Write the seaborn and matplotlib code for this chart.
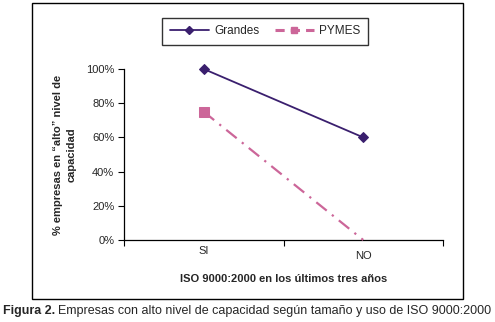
import matplotlib
matplotlib.use("Agg")
import matplotlib.pyplot as plt
import matplotlib.transforms as mtransforms
import seaborn as sns
import pandas as pd
from matplotlib.patches import Rectangle
from matplotlib.lines import Line2D

categories = ["SI", "NO"]
grandes = [1.00, 0.60]
pymes = [0.75, 0.0]
yticks = [0, 0.2, 0.4, 0.6, 0.8, 1.0]
ytick_labels = ["0%", "20%", "40%", "60%", "80%", "100%"]

sns.set_theme(style="white")
plt.rcParams['font.family'] = ['Liberation Sans', 'DejaVu Sans']

df = pd.DataFrame({
    "cat": categories * 2,
    "val": grandes + pymes,
    "serie": ["Grandes"] * 2 + ["PYMES"] * 2,
})

W, H = 495, 322
fig = plt.figure(figsize=(W / 100, H / 100), dpi=100)
ax = fig.add_axes([124 / W, 1 - 240 / H, (443 - 124) / W, (240 - 69) / H])

c_g = "#3a1f6e"
c_p = "#cc6699"

sns.lineplot(data=df[df.serie == "Grandes"], x="cat", y="val", ax=ax,
             color=c_g, lw=1.3, marker="D", markersize=5.5, markeredgecolor=c_g,
             sort=False, legend=False, clip_on=False, zorder=4)
sns.lineplot(data=df[df.serie == "PYMES"], x="cat", y="val", ax=ax,
             color=c_p, lw=1.6, marker="s", markersize=7, markeredgecolor=c_p,
             markevery=[0], sort=False, legend=False, dashes=False, clip_on=False, zorder=3)
ax.lines[1].set_dashes([6, 3, 1, 3])

ax.set_xlim(-0.5, 1.5)
ax.set_ylim(0, 1.0)
ax.set_yticks(yticks)
ax.set_yticklabels(ytick_labels, fontsize=8)
ax.set_xticks([0, 1])
ax.set_xticklabels(categories, fontsize=8)
ax.set_xticks([-0.5, 0.5, 1.5], minor=True)
ax.tick_params(axis="x", which="major", length=0, pad=4)
ax.tick_params(axis="x", which="minor", length=4, direction="out", width=0.8, color="black", bottom=True)
ax.tick_params(axis="y", length=4, direction="out", width=0.8, color="black", left=True, pad=3)
for lbl in ax.get_xticklabels():
    if lbl.get_text() == "NO":
        lbl.set_transform(lbl.get_transform() + mtransforms.ScaledTranslation(0, -5 / 100, fig.dpi_scale_trans))
for s in ["top", "right"]:
    ax.spines[s].set_visible(False)
for s in ["left", "bottom"]:
    ax.spines[s].set_color("black")
    ax.spines[s].set_linewidth(0.9)
ax.set_facecolor("white")

ax.set_xlabel("ISO 9000:2000 en los últimos tres años", fontsize=8, fontweight="bold", labelpad=10)
ax.set_ylabel("% empresas en \u201calto\u201d nivel de\ncapacidad", fontsize=8, fontweight="bold",
              labelpad=7, linespacing=1.45)

# outer frame
fig.patches.append(Rectangle((32 / W, 1 - 299 / H), (463 - 32) / W, (299 - 3) / H,
                             transform=fig.transFigure, fill=False, edgecolor="black", lw=1.0))

handles = [
    Line2D([], [], color=c_g, lw=1.3, marker="D", markersize=4.5),
    Line2D([], [], color=c_p, lw=2.2, marker="s", markersize=5, dashes=[3, 2]),
]
leg = fig.legend(handles, ["Grandes", "PYMES"], loc="center", bbox_to_anchor=(265 / W, 1 - 31.5 / H),
                 ncol=2, frameon=True, fancybox=False, fontsize=8.5, handlelength=3.3,
                 columnspacing=1.3, borderpad=0.65, handletextpad=0.45, borderaxespad=0)
leg.get_frame().set_edgecolor("black")
leg.get_frame().set_linewidth(1.0)

fig.text(3 / W, 1 - 311 / H, "Figura 2.", fontsize=9, fontweight="bold", va="center", ha="left")
fig.text(58 / W, 1 - 311 / H, "Empresas con alto nivel de capacidad según tamaño y uso de ISO 9000:2000",
         fontsize=9, va="center", ha="left")

fig.savefig("out.png", dpi=100, facecolor="white")
